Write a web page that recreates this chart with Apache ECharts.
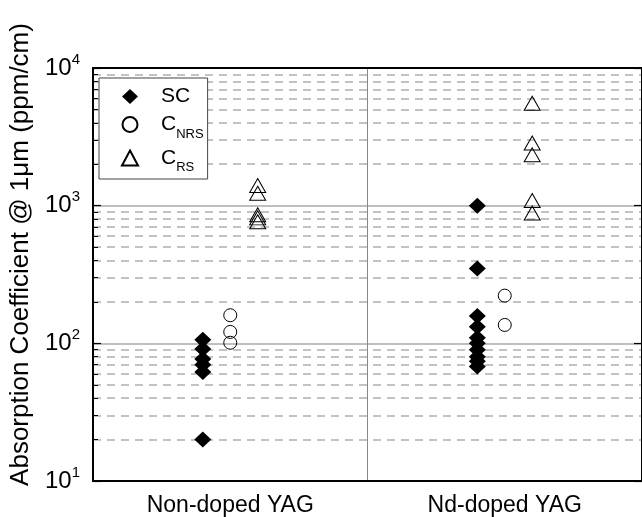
<!DOCTYPE html>
<html>
<head>
<meta charset="utf-8">
<script src="https://cdn.jsdelivr.net/npm/echarts@6/dist/echarts.min.js"></script>
<style>html,body{margin:0;padding:0;background:#fff;}#c{width:642px;height:517px;}</style>
</head>
<body>
<div id="c"></div>
<script>
// ---- data ----
const categories = ['Non-doped YAG', 'Nd-doped YAG'];
const seriesNames = ['SC', 'C_NRS', 'C_RS'];
// values per category (index 0: Non-doped YAG, index 1: Nd-doped YAG)
const scValues   = [[106, 91, 77, 70, 62, 20], [1000, 350, 158, 132, 110, 100, 90, 80, 74, 68]];
const cnrsValues = [[160, 121, 101], [222, 136]];
const crsValues  = [[1400, 1230, 860, 815, 765], [5550, 2850, 2340, 1090, 885]];
const yTicks = [10, 100, 1000, 10000];

const FONT = 'Liberation Sans, Arial, sans-serif';
const offsets = [-0.1, 0, 0.1];
function toPoints(vals, si) {
  const pts = [];
  vals.forEach((arr, ci) => arr.forEach(v => pts.push([ci + 0.5 + offsets[si], v])));
  return pts;
}
const legendLabel = {
  'SC': '{b|SC}',
  'C_NRS': '{b|C}{s|NRS}',
  'C_RS': '{b|C}{s|RS}'
};

const chart = echarts.init(document.getElementById('c'), null, {renderer: 'canvas'});
chart.setOption({
  animation: false,
  backgroundColor: '#fff',
  grid: {left: 93, top: 68, right: -3, bottom: 35, containLabel: false},
  legend: {
    orient: 'vertical', left: 99, top: 78,
    padding: [8, 4, 5, 22], itemGap: 7,
    itemWidth: 16, itemHeight: 15,
    backgroundColor: '#fff', borderColor: '#444', borderWidth: 1,
    formatter: n => legendLabel[n],
    textStyle: {
      color: '#000', fontFamily: FONT, padding: [0, 0, 0, 18],
      rich: {
        b: {fontSize: 21, fontFamily: FONT, color: '#000', lineHeight: 22},
        s: {fontSize: 13, fontFamily: FONT, color: '#000', padding: [19, 0, 0, 0]}
      }
    },
    data: seriesNames
  },
  xAxis: [
    {
      type: 'category', data: categories, position: 'bottom', boundaryGap: true,
      axisLine: {show: true, lineStyle: {color: '#000', width: 2}},
      axisTick: {show: false},
      axisLabel: {fontSize: 23, color: '#000', fontFamily: FONT, margin: 13},
      splitLine: {show: true, lineStyle: {color: '#888', width: 1}}
    },
    {
      type: 'value', min: 0, max: 2, position: 'top',
      axisLine: {show: true, onZero: false, lineStyle: {color: '#000', width: 2}},
      axisTick: {show: false}, axisLabel: {show: false}, splitLine: {show: false}
    }
  ],
  yAxis: [
    {
      type: 'log', logBase: 10, min: 10, max: 10000, position: 'left',
      name: 'Absorption Coefficient @ 1μm (ppm/cm)',
      nameLocation: 'middle', nameRotate: 90, nameGap: 59,
      nameTextStyle: {fontSize: 26, color: '#000', fontFamily: FONT, padding: [0, 0, 0, 40]},
      axisLine: {show: true, onZero: false, lineStyle: {color: '#000', width: 2}},
      axisTick: {show: true, inside: true, length: 8, lineStyle: {color: '#000', width: 1.2}},
      minorTick: {show: true, splitNumber: 9, length: 5, lineStyle: {color: '#000', width: 1}},
      splitLine: {show: true, lineStyle: {color: '#a8a8a8', width: 1.5}},
      minorSplitLine: {show: true, lineStyle: {color: '#b0b0b0', width: 1.5, type: [8, 6]}},
      axisLabel: {
        margin: 13, color: '#000', fontFamily: FONT,
        formatter: v => '{b|10}{s|' + Math.round(Math.log10(v)) + '}',
        rich: {
          b: {fontSize: 24, fontFamily: FONT, color: '#000'},
          s: {fontSize: 15, fontFamily: FONT, color: '#000', padding: [0, 0, 17, 0]}
        }
      }
    },
    {
      type: 'log', logBase: 10, min: 10, max: 10000, position: 'right',
      axisLine: {show: true, onZero: false, lineStyle: {color: '#000', width: 2}},
      axisTick: {show: true, inside: true, length: 8, lineStyle: {color: '#000', width: 1.2}},
      axisLabel: {show: false}, splitLine: {show: false}
    }
  ],
  series: [
    {
      name: 'SC', type: 'scatter', xAxisIndex: 1, yAxisIndex: 0,
      symbol: 'diamond', symbolSize: [17, 16],
      itemStyle: {color: '#000', opacity: 1},
      data: toPoints(scValues, 0), z: 3
    },
    {
      name: 'C_NRS', type: 'scatter', xAxisIndex: 1, yAxisIndex: 0,
      symbol: 'circle', symbolSize: 13,
      itemStyle: {color: 'rgba(0,0,0,0)', borderColor: '#000', borderWidth: 1, opacity: 1},
      data: toPoints(cnrsValues, 1), z: 3
    },
    {
      name: 'C_RS', type: 'scatter', xAxisIndex: 1, yAxisIndex: 0,
      symbol: 'triangle', symbolSize: [16, 14],
      itemStyle: {color: 'rgba(0,0,0,0)', borderColor: '#000', borderWidth: 1, opacity: 1},
      data: toPoints(crsValues, 2), z: 3
    }
  ]
});
</script>
</body>
</html>
